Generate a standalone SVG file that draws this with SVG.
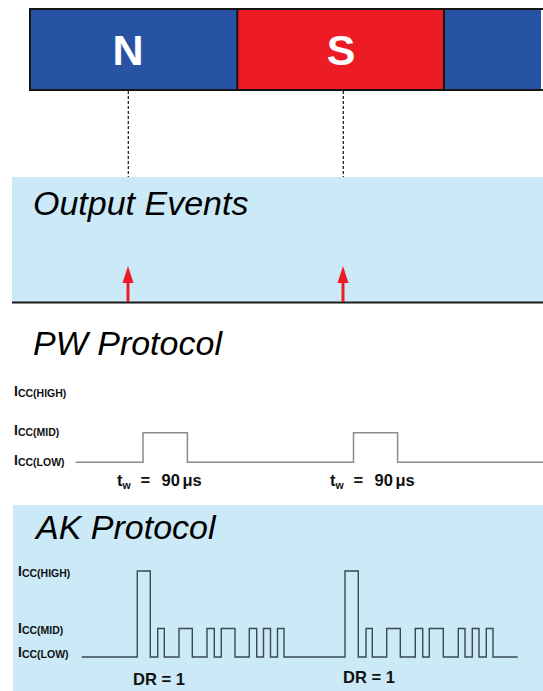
<svg xmlns="http://www.w3.org/2000/svg" width="543" height="691" viewBox="0 0 543 691">
<style>
.head{font-family:"Liberation Sans",Arial,sans-serif;font-style:italic;font-size:34px;fill:#000}
.pole{font-family:"Liberation Sans",Arial,sans-serif;font-weight:bold;font-size:43px;fill:#fff;text-anchor:middle}
.lbl{font-family:"Liberation Sans",Arial,sans-serif;font-weight:bold;font-size:14px;fill:#111}
.sub{font-size:10.5px}
.tw{font-family:"Liberation Sans",Arial,sans-serif;font-weight:bold;font-size:16.5px;fill:#111}
.dash{stroke:#111;stroke-width:1.2;stroke-dasharray:3 2;fill:none}
.arrow{stroke:#ee1c24;stroke-width:3;fill:none}
.head-tri{fill:#ee1c24}
.panel{fill:#cbe9f6}
</style>
<rect width="543" height="691" fill="#fff"/>
<g id="magnet">
  <g id="pole-n">
    <rect x="30" y="9" width="207.3" height="81" fill="#2853a5"/>
    <text class="pole" x="128" y="65">N</text>
  </g>
  <g id="pole-s">
    <rect x="237.3" y="9" width="206.7" height="81" fill="#ed1c24"/>
    <text class="pole" x="341" y="65">S</text>
  </g>
  <g id="pole-n2">
    <rect x="444" y="9" width="97" height="81" fill="#2853a5"/>
  </g>
  <path d="M543 9 H30 V90 H543 M237.3 9 V90 M444 9 V90" fill="none" stroke="#151515" stroke-width="2"/>
</g>
<g id="output-events">
  <rect class="panel" x="12" y="177" width="531" height="125"/>
  <text class="head" x="33" y="215">Output Events</text>
  <line x1="12" y1="302.5" x2="543" y2="302.5" stroke="#1a1a1a" stroke-width="2"/>
</g>
<g id="pw-protocol">
  <text class="head" x="33" y="355">PW Protocol</text>
  <text class="lbl" x="14" y="396">I<tspan class="sub" dy="1">CC(HIGH)</tspan></text>
  <text class="lbl" x="14" y="435">I<tspan class="sub" dy="1">CC(MID)</tspan></text>
  <text class="lbl" x="14" y="465">I<tspan class="sub" dy="1">CC(LOW)</tspan></text>
  <path d="M75.6 462.3 H143 V432.7 H187.4 V462.3 H353.5 V432.7 H397.6 V462.3 H543" fill="none" stroke="#8c8c8c" stroke-width="1.5"/>
  <text class="tw" x="117" y="486">t<tspan class="sub" dy="3">w</tspan><tspan x="140.5" dy="-3">=</tspan><tspan x="161.5">90</tspan><tspan x="182.5">μs</tspan></text>
  <text class="tw" x="330" y="486">t<tspan class="sub" dy="3">w</tspan><tspan x="353.5" dy="-3">=</tspan><tspan x="374.5">90</tspan><tspan x="395.5">μs</tspan></text>
</g>
<g id="ak-protocol">
  <rect class="panel" x="13" y="505" width="530" height="186"/>
  <text class="head" x="36" y="539">AK Protocol</text>
  <text class="lbl" x="18" y="576">I<tspan class="sub" dy="1">CC(HIGH)</tspan></text>
  <text class="lbl" x="18" y="633">I<tspan class="sub" dy="1">CC(MID)</tspan></text>
  <text class="lbl" x="18" y="657">I<tspan class="sub" dy="1">CC(LOW)</tspan></text>
  <path d="M81.7 657 H137.3 V571 H150.3 V657 H157.7 V628.5 H164.3 V657 H179 V628.5 H192.3 V657 H207 V628.5 H214.3 V657 H221.3 V628.5 H235 V657 H249.3 V628.5 H256.7 V657 H263.5 V628.5 H270.5 V657 H277.5 V628.5 H284 V657 H345 V571 H358.3 V657 H366 V628.5 H372.3 V657 H386.7 V628.5 H400.3 V657 H415.3 V628.5 H422.7 V657 H429.3 V628.5 H443.3 V657 H458.3 V628.5 H465 V657 H472.3 V628.5 H479 V657 H486.3 V628.5 H493 V657 H517.7" fill="none" stroke="#3a4852" stroke-width="1.4"/>
  <text class="tw" x="133" y="685">DR = 1</text>
  <text class="tw" x="343" y="683">DR = 1</text>
</g>
<g id="connectors">
  <line class="dash" x1="128.3" y1="91" x2="128.3" y2="177"/>
  <line class="dash" x1="343.3" y1="91" x2="343.3" y2="177"/>
  <line class="arrow" x1="128" y1="302" x2="128" y2="281"/>
  <polygon class="head-tri" points="128,266 122.5,283 133.5,283"/>
  <line class="arrow" x1="343" y1="302" x2="343" y2="281"/>
  <polygon class="head-tri" points="343,266 337.5,283 348.5,283"/>
</g>
</svg>
